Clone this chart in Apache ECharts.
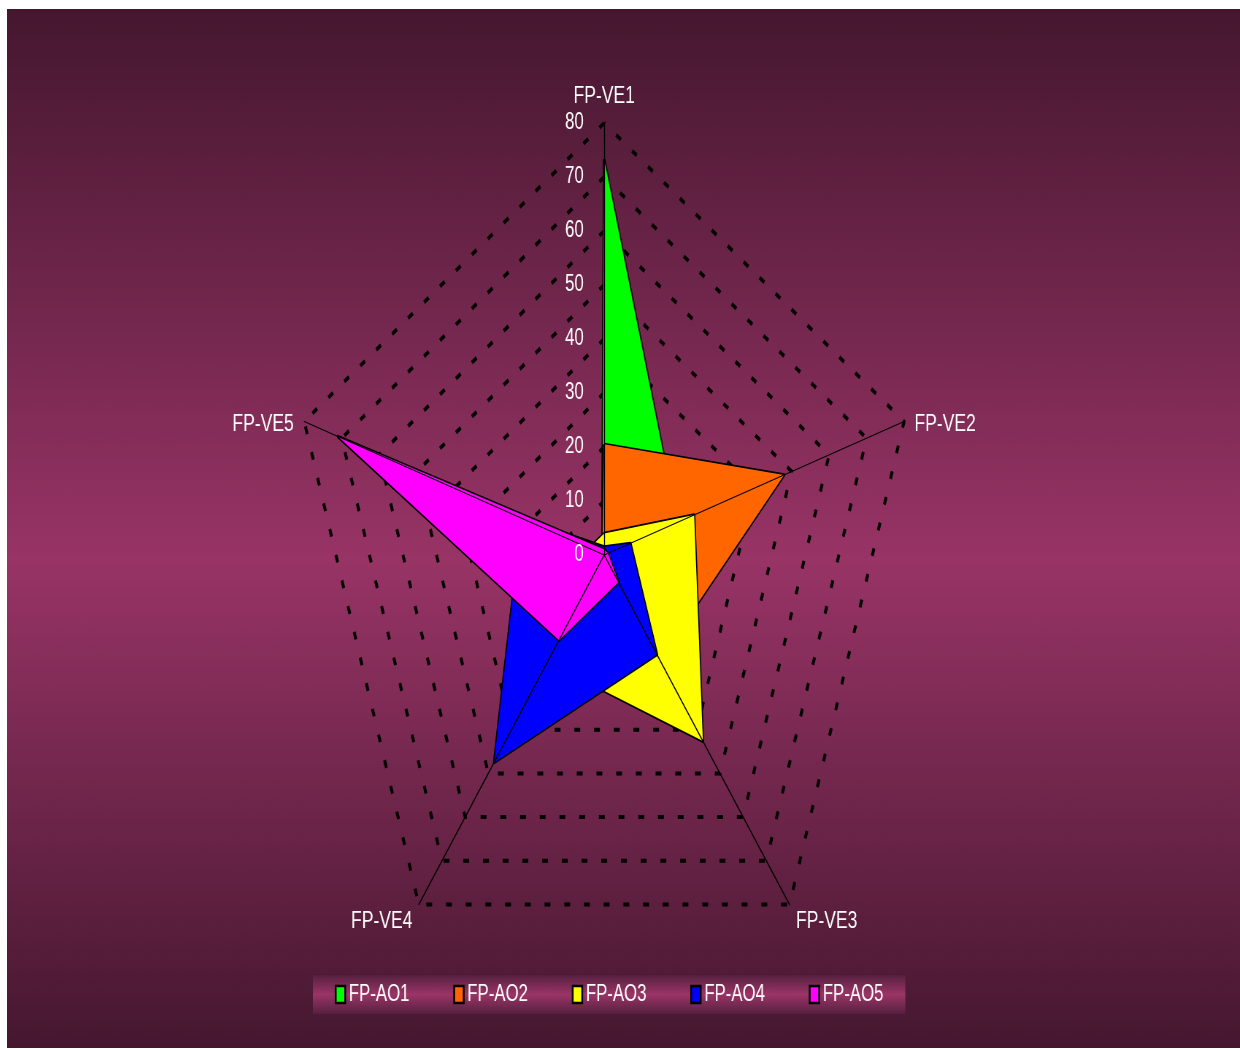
<!DOCTYPE html>
<html>
<head>
<meta charset="utf-8">
<script src="https://cdn.jsdelivr.net/npm/echarts@6/dist/echarts.min.js"></script>
<style>
  html, body { margin: 0; padding: 0; background: #ffffff; }
  #chart {
    position: absolute; left: 7px; top: 9px;
    width: 1689px; height: 1039px;
    transform: scaleX(0.73); transform-origin: 0 0;
  }
</style>
</head>
<body>
<div id="chart"></div>
<script>
// ---- data ----
const indicatorNames = ['FP-VE1', 'FP-VE2', 'FP-VE3', 'FP-VE4', 'FP-VE5'];
const seriesNames = ['FP-AO1', 'FP-AO2', 'FP-AO3', 'FP-AO4', 'FP-AO5'];
const seriesColors = ['#00ff00', '#ff6600', '#ffff00', '#0000ff', '#ff00ff'];
const AO1 = [73.3, 19.5, 1, 0.5, 0.5];
const AO2 = [20.5, 48, 24, 2, 0.5];
const AO3 = [4, 24, 42.6, 24.5, 4];
const AO4 = [1.5, 7, 22.8, 47.5, 22];
const AO5 = [1, 1, 6.2, 19.5, 71];
const axisMax = 80;
const axisInterval = 10;

const seriesValues = [AO1, AO2, AO3, AO4, AO5];
// ECharts places radar indicators counter-clockwise; reference runs clockwise.
const order = [0, 4, 3, 2, 1];
const reorder = arr => order.map(i => arr[i]);

const chart = echarts.init(document.getElementById('chart'));
const FONT = 'Liberation Sans, Arial, sans-serif';
const center = [818, 546];
const radius = 432;

// name text tweaks: side names sit slightly lower than the default anchor
const nameStyles = [
  {},
  { verticalAlign: 'top', lineHeight: 16 },
  { verticalAlign: 'top', lineHeight: 10 },
  { verticalAlign: 'top', lineHeight: 10 },
  { verticalAlign: 'top', lineHeight: 16 }
];

const indicatorMain = reorder(indicatorNames).map((n, i) => ({
  name: n, min: 0, max: axisMax,
  nameTextStyle: reorder(nameStyles)[i]
}));
const indicatorTop = reorder(indicatorNames).map((n, i) => ({
  name: n, min: 0, max: axisMax,
  axisLabel: { show: i === 0, color: '#ffffff', fontSize: 23, fontFamily: FONT, margin: 28 }
}));

const option = {
  backgroundColor: new echarts.graphic.LinearGradient(0, 0, 0, 1, [
    { offset: 0, color: '#45172f' },
    { offset: 0.53, color: '#983466' },
    { offset: 1, color: '#45172f' }
  ]),
  color: seriesColors,
  animation: false,
  legend: {
    data: seriesNames,
    left: 419, top: 966,
    icon: 'rect',
    itemWidth: 13, itemHeight: 17, itemGap: 60,
    padding: [8, 30, 8, 30],
    itemStyle: { borderColor: '#000000', borderWidth: 2.5 },
    textStyle: { color: '#ffffff', fontSize: 23, fontFamily: FONT },
    backgroundColor: new echarts.graphic.LinearGradient(0, 0, 0, 1, [
      { offset: 0, color: '#55203f' },
      { offset: 0.5, color: '#9b3567' },
      { offset: 1, color: '#55203f' }
    ])
  },
  radar: [
    {
      center: center, radius: radius, shape: 'polygon', startAngle: 90,
      splitNumber: axisMax / axisInterval,
      indicator: indicatorMain,
      axisName: { color: '#ffffff', fontSize: 24, fontFamily: FONT },
      nameGap: 15,
      splitLine: { lineStyle: { color: '#000000', width: 4, type: [8, 19] } },
      splitArea: { show: false },
      axisLine: { show: false },
      axisTick: { show: false },
      axisLabel: { show: false },
      z: 0
    },
    {
      center: center, radius: radius, shape: 'polygon', startAngle: 90,
      splitNumber: axisMax / axisInterval,
      indicator: indicatorTop,
      axisName: { show: false },
      splitLine: { show: false },
      splitArea: { show: false },
      axisLine: { show: true, lineStyle: { color: '#000000', width: 1.3 } },
      axisTick: { show: false },
      axisLabel: { show: false },
      z: 10
    }
  ],
  series: seriesNames.map((name, i) => ({
    type: 'radar',
    name: name,
    radarIndex: 0,
    symbol: 'none',
    z: 2 + i * 0.01,
    lineStyle: { color: '#000000', width: 3.3 },
    areaStyle: { color: seriesColors[i], opacity: 1 },
    itemStyle: { color: seriesColors[i] },
    data: [{ name: name, value: reorder(seriesValues[i]) }]
  }))
};
chart.setOption(option);
</script>
</body>
</html>
